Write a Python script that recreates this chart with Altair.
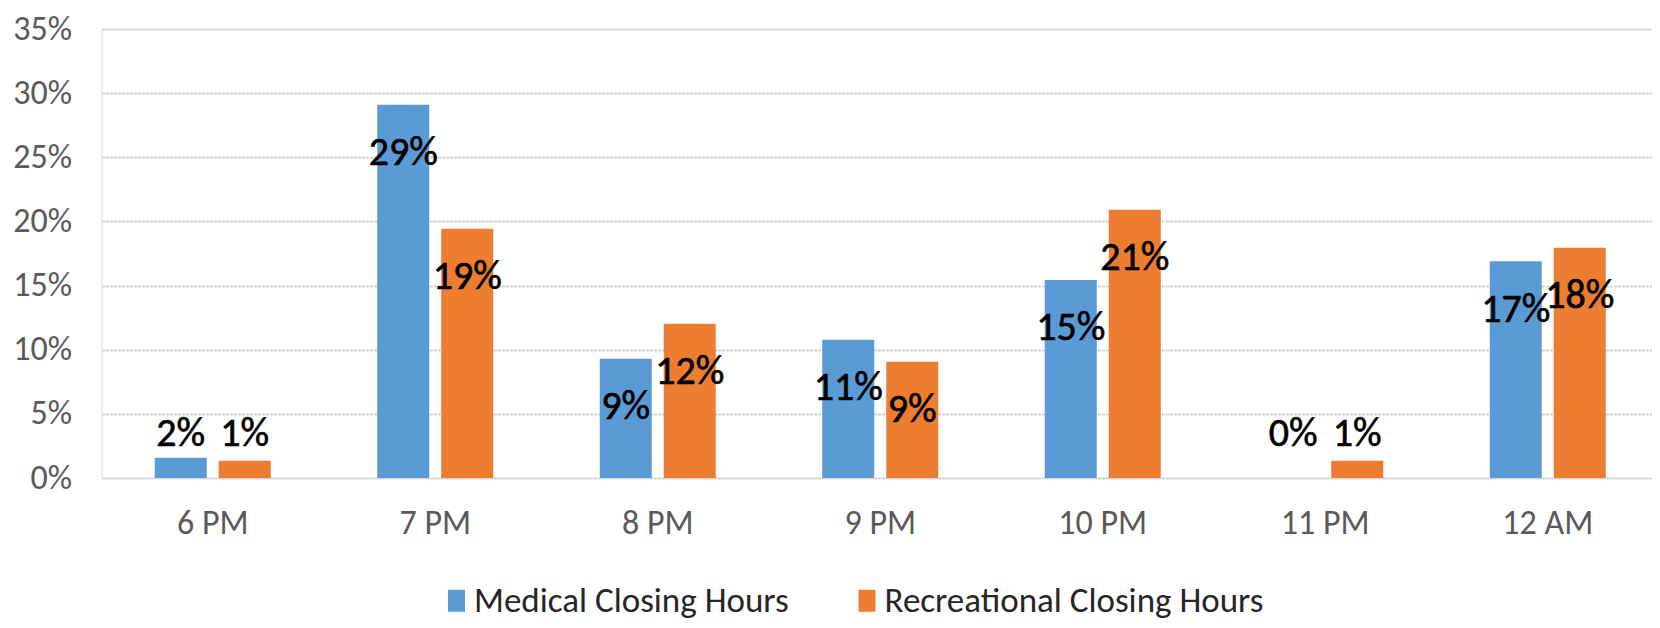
import altair as alt
import pandas as pd

hours = ["6 PM", "7 PM", "8 PM", "9 PM", "10 PM", "11 PM", "12 AM"]
medical = [0.0158, 0.291, 0.093, 0.1078, 0.1544, 0.0, 0.169]
recreational = [0.0135, 0.1943, 0.1203, 0.0906, 0.2091, 0.0135, 0.1795]
series = ["Medical Closing Hours", "Recreational Closing Hours"]
colors = ["#5B9BD5", "#ED7D31"]
y_ticks = [0, 0.05, 0.10, 0.15, 0.20, 0.25, 0.30, 0.35]

rows = []
for i, h in enumerate(hours):
    for s, vals in zip(series, [medical, recreational]):
        v = vals[i]
        rows.append({"hour": h, "series": s, "value": v})
df = pd.DataFrame(rows)
# label anchor: slightly inside the bar top, never lower than just above the baseline
df["label_pos"] = (df["value"] - 0.0378).clip(lower=0.0345)

FONT = "Carlito, 'Liberation Sans Narrow', 'DejaVu Sans Condensed', sans-serif"

x_enc = alt.X(
    "hour:N",
    sort=hours,
    scale=alt.Scale(range=[0, 1557.5], paddingInner=0.4787, paddingOuter=0.2393),
    axis=alt.Axis(
        title=None, domain=False, ticks=False, tickSize=0, labelAngle=0,
        labelFontSize=34, labelColor="#595959", labelFont=FONT,
        labelBaseline="middle", labelPadding=45, grid=False,
    ),
)
xo_enc = alt.XOffset("series:N", sort=series,
                     scale=alt.Scale(paddingInner=0.1875, paddingOuter=0))

bars = alt.Chart(df).mark_bar().encode(
    x=x_enc,
    xOffset=xo_enc,
    y=alt.Y(
        "value:Q",
        scale=alt.Scale(domain=[0, 0.35], nice=False),
        axis=alt.Axis(
            title=None, values=y_ticks, format=".0%", domain=False, ticks=False,
            tickSize=0, labelFontSize=34, labelColor="#595959", labelFont=FONT,
            labelPadding=30, grid=True, gridColor="#d3d3d3", gridWidth=2,
            gridDash=[3, 1],
        ),
    ),
    color=alt.Color(
        "series:N",
        sort=series,
        scale=alt.Scale(domain=series, range=colors),
        legend=alt.Legend(
            title=None, orient="none", direction="horizontal", columns=2,
            legendX=337.5, legendY=554, padding=0,
            symbolType="M-1.214,-1.571L1.214,-1.571L1.214,1.571L-1.214,1.571Z",
            symbolSize=196, symbolStrokeWidth=0, symbolOpacity=1,
            labelFontSize=35, labelFont=FONT, labelColor="#262626",
            labelOffset=0, columnPadding=60.5, labelLimit=600,
        ),
    ),
)

labels = alt.Chart(df).mark_text(
    fontSize=40, font=FONT, color="#000000", baseline="middle", align="center",
    stroke="#000000", strokeWidth=0.6,
).encode(
    x=alt.X("hour:N", sort=hours),
    xOffset=alt.XOffset("series:N", sort=series),
    y=alt.Y("label_pos:Q"),
    text=alt.Text("value:Q", format=".0%"),
)

chart = (
    alt.layer(bars, labels)
    .properties(
        width=1550.5,
        height=449,
        autosize=alt.AutoSizeParams(type="none"),
        padding={"left": 93.5, "top": 21, "right": 0, "bottom": 142},
    )
    .configure_view(stroke=None)
    .configure(background="white")
)

chart.save("out.html", embed_options={"renderer": "svg", "actions": False})
